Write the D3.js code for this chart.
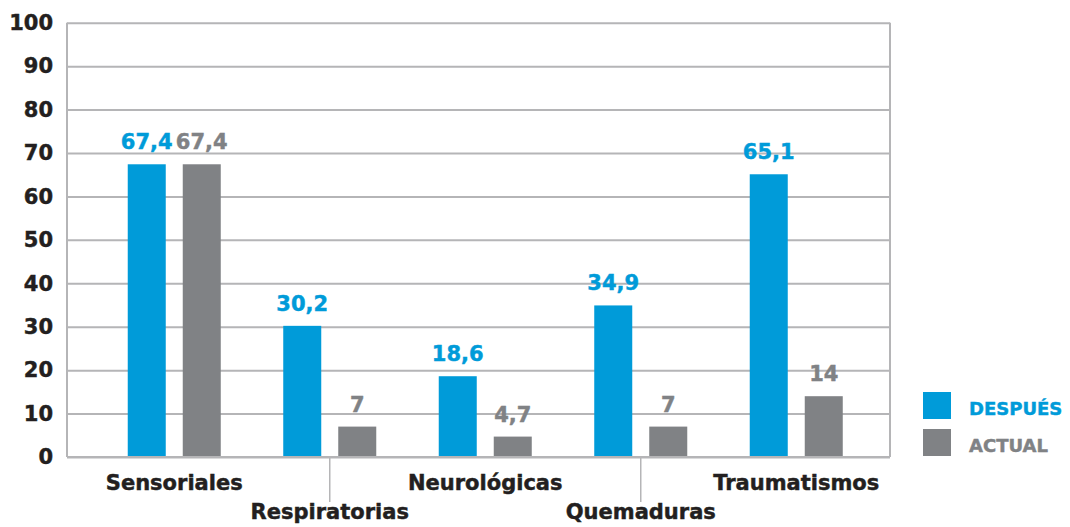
<!DOCTYPE html>
<html>
<head>
<meta charset="utf-8">
<script src="https://cdn.jsdelivr.net/npm/d3@7"></script>
<style>
  body { margin: 0; background: #fff; }
  text { font-family: "DejaVu Sans", Verdana, sans-serif; font-weight: bold; stroke-width: 0.45px; }
</style>
</head>
<body>
<script>
// data
var categories = ["Sensoriales", "Respiratorias", "Neurológicas", "Quemaduras", "Traumatismos"];
var seriesNames = ["DESPUÉS", "ACTUAL"];
var despues = [67.4, 30.2, 18.6, 34.9, 65.1];
var actual = [67.4, 7, 4.7, 7, 14];
var valueLabels = {
  "DESPUÉS": ["67,4", "30,2", "18,6", "34,9", "65,1"],
  "ACTUAL": ["67,4", "7", "4,7", "7", "14"]
};
var yTicks = [0, 10, 20, 30, 40, 50, 60, 70, 80, 90, 100];
var colors = { "DESPUÉS": "#009bd9", "ACTUAL": "#808285" };

var width = 1070, height = 527;
var plot = { left: 67, right: 890, top: 22.7, bottom: 457 };

var svg = d3.select("body").append("svg")
  .attr("width", width)
  .attr("height", height);

var y = d3.scaleLinear().domain([0, 100]).range([plot.bottom, plot.top]);

// group positions
var x0 = d3.scaleBand().domain(categories).range([96.5, 874]).paddingInner(0);
var x1 = d3.scaleBand().domain(seriesNames).range([0, x0.bandwidth()])
  .paddingInner(0.309).paddingOuter(0.568);

// grid + y labels
var yAxis = svg.append("g")
  .attr("transform", "translate(" + plot.left + ",0)")
  .call(d3.axisLeft(y).tickValues(yTicks).tickSize(-(plot.right - plot.left)).tickPadding(14));
yAxis.select(".domain").remove();
yAxis.selectAll(".tick line").attr("stroke", "#b5b5b7").attr("stroke-width", 2);
yAxis.selectAll(".tick text")
  .attr("fill", "#231f20")
  .attr("stroke", "#231f20")
  .style("font-size", "21px")
  .style("font-family", "DejaVu Sans")
  .style("font-weight", "bold");

// frame
svg.append("line").attr("x1", plot.left).attr("x2", plot.left)
  .attr("y1", plot.top).attr("y2", plot.bottom)
  .attr("stroke", "#b5b5b7").attr("stroke-width", 2);
svg.append("line").attr("x1", plot.right).attr("x2", plot.right)
  .attr("y1", plot.top).attr("y2", plot.bottom)
  .attr("stroke", "#b5b5b7").attr("stroke-width", 2);

// bars
var rows = categories.map(function (c, i) {
  return [
    { cat: c, s: "DESPUÉS", v: despues[i], label: valueLabels["DESPUÉS"][i] },
    { cat: c, s: "ACTUAL", v: actual[i], label: valueLabels["ACTUAL"][i] }
  ];
});

var groups = svg.selectAll("g.grp")
  .data(rows)
  .enter().append("g")
  .attr("class", "grp")
  .attr("transform", function (d) { return "translate(" + x0(d[0].cat) + ",0)"; });

groups.selectAll("rect")
  .data(function (d) { return d; })
  .enter().append("rect")
  .attr("x", function (d) { return x1(d.s); })
  .attr("y", function (d) { return y(d.v); })
  .attr("width", x1.bandwidth())
  .attr("height", function (d) { return y(0) - y(d.v); })
  .attr("fill", function (d) { return colors[d.s]; });

groups.selectAll("text.val")
  .data(function (d) { return d; })
  .enter().append("text")
  .attr("class", "val")
  .attr("x", function (d) { return x1(d.s) + x1.bandwidth() / 2; })
  .attr("y", function (d) { return y(d.v) - 15; })
  .attr("text-anchor", "middle")
  .attr("fill", function (d) { return colors[d.s]; })
  .attr("stroke", function (d) { return colors[d.s]; })
  .style("font-size", "21px")
  .text(function (d) { return d.label; });

// x axis line
svg.append("line").attr("x1", plot.left).attr("x2", plot.right)
  .attr("y1", plot.bottom).attr("y2", plot.bottom)
  .attr("stroke", "#b5b5b7").attr("stroke-width", 2);

// category labels, staggered
var xl = svg.selectAll("g.xl")
  .data(categories)
  .enter().append("g")
  .attr("class", "xl")
  .attr("transform", function (d) { return "translate(" + (x0(d) + x0.bandwidth() / 2) + ",0)"; });

xl.filter(function (d, i) { return i % 2 === 1; })
  .append("line")
  .attr("y1", plot.bottom).attr("y2", 502)
  .attr("stroke", "#b5b5b7").attr("stroke-width", 1.5);

xl.append("text")
  .attr("text-anchor", "middle")
  .attr("y", function (d, i) { return i % 2 === 1 ? 519 : 490; })
  .attr("fill", "#231f20")
  .attr("stroke", "#231f20")
  .style("font-size", "21px")
  .text(function (d) { return d; });

// legend
var legend = svg.selectAll("g.leg")
  .data(seriesNames)
  .enter().append("g")
  .attr("class", "leg")
  .attr("transform", function (d, i) { return "translate(923," + (392 + i * 37) + ")"; });

legend.append("rect")
  .attr("width", 28).attr("height", 27)
  .attr("fill", function (d) { return colors[d]; });

legend.append("text")
  .attr("x", 46).attr("y", 23)
  .attr("fill", function (d) { return colors[d]; })
  .attr("stroke", function (d) { return colors[d]; })
  .style("font-size", "18px")
  .text(function (d) { return d; });
</script>
</body>
</html>
